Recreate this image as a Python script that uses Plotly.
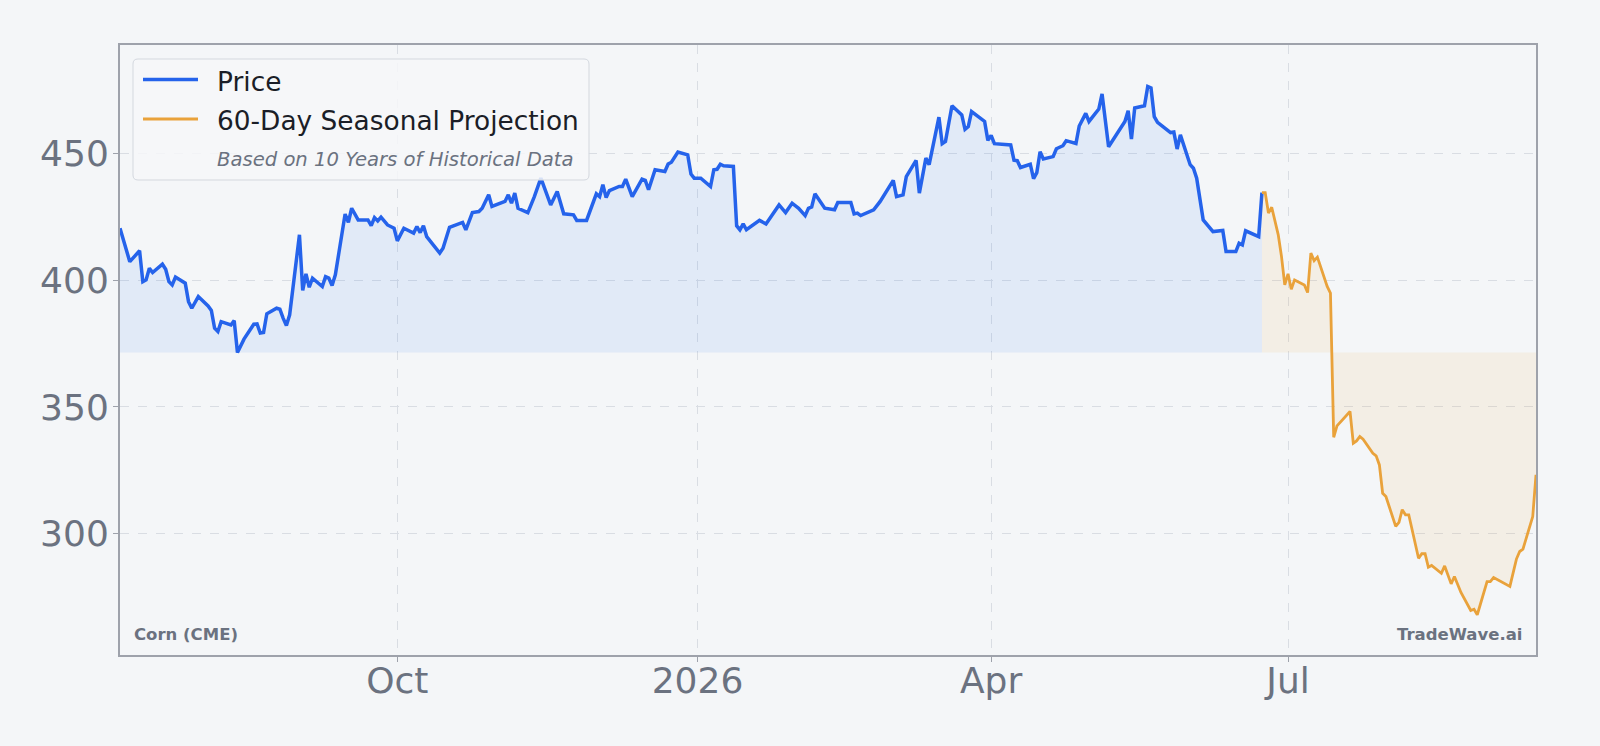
import plotly.graph_objects as go

# ---------------- data ----------------
price_dates = [
    "2025-07-08", "2025-07-09", "2025-07-11", "2025-07-14", "2025-07-15", "2025-07-16", "2025-07-17", "2025-07-18",
    "2025-07-21", "2025-07-22", "2025-07-23", "2025-07-24", "2025-07-25", "2025-07-28", "2025-07-29", "2025-07-30",
    "2025-08-01", "2025-08-04", "2025-08-05", "2025-08-06", "2025-08-07", "2025-08-08", "2025-08-11", "2025-08-12",
    "2025-08-13", "2025-08-15", "2025-08-18", "2025-08-19", "2025-08-20", "2025-08-21", "2025-08-22", "2025-08-25",
    "2025-08-26", "2025-08-27", "2025-08-28", "2025-08-29", "2025-09-01", "2025-09-02", "2025-09-03", "2025-09-04",
    "2025-09-05", "2025-09-08", "2025-09-09", "2025-09-10", "2025-09-11", "2025-09-12", "2025-09-15", "2025-09-16",
    "2025-09-17", "2025-09-19", "2025-09-22", "2025-09-23", "2025-09-24", "2025-09-25", "2025-09-26", "2025-09-28",
    "2025-09-30", "2025-10-01", "2025-10-03", "2025-10-06", "2025-10-07", "2025-10-08", "2025-10-09", "2025-10-10",
    "2025-10-14", "2025-10-15", "2025-10-17", "2025-10-21", "2025-10-22", "2025-10-24", "2025-10-26", "2025-10-27",
    "2025-10-29", "2025-10-30", "2025-11-03", "2025-11-04", "2025-11-05", "2025-11-06", "2025-11-07", "2025-11-10",
    "2025-11-12", "2025-11-14", "2025-11-17", "2025-11-19", "2025-11-21", "2025-11-24", "2025-11-25", "2025-11-28",
    "2025-12-01", "2025-12-02", "2025-12-03", "2025-12-04", "2025-12-05", "2025-12-08", "2025-12-09", "2025-12-10",
    "2025-12-12", "2025-12-15", "2025-12-16", "2025-12-17", "2025-12-19", "2025-12-22", "2025-12-23", "2025-12-24",
    "2025-12-26", "2025-12-29", "2025-12-30", "2025-12-31", "2026-01-02", "2026-01-05", "2026-01-06", "2026-01-07",
    "2026-01-08", "2026-01-09", "2026-01-12", "2026-01-13", "2026-01-14", "2026-01-15", "2026-01-16", "2026-01-20",
    "2026-01-22", "2026-01-26", "2026-01-28", "2026-01-30", "2026-02-01", "2026-02-03", "2026-02-04", "2026-02-05",
    "2026-02-06", "2026-02-09", "2026-02-11", "2026-02-12", "2026-02-13", "2026-02-17", "2026-02-18", "2026-02-19",
    "2026-02-20", "2026-02-24", "2026-02-26", "2026-03-02", "2026-03-03", "2026-03-05", "2026-03-06", "2026-03-09",
    "2026-03-10", "2026-03-12", "2026-03-13", "2026-03-16", "2026-03-17", "2026-03-18", "2026-03-20", "2026-03-23",
    "2026-03-24", "2026-03-25", "2026-03-26", "2026-03-30", "2026-03-31", "2026-04-01", "2026-04-02", "2026-04-07",
    "2026-04-08", "2026-04-09", "2026-04-10", "2026-04-13", "2026-04-14", "2026-04-15", "2026-04-16", "2026-04-17",
    "2026-04-20", "2026-04-21", "2026-04-23", "2026-04-24", "2026-04-27", "2026-04-28", "2026-04-30", "2026-05-01",
    "2026-05-04", "2026-05-05", "2026-05-07", "2026-05-12", "2026-05-13", "2026-05-14", "2026-05-15", "2026-05-18",
    "2026-05-19", "2026-05-20", "2026-05-21", "2026-05-22", "2026-05-26", "2026-05-27", "2026-05-28", "2026-05-29",
    "2026-06-01", "2026-06-02", "2026-06-03", "2026-06-04", "2026-06-05", "2026-06-08", "2026-06-11", "2026-06-12",
    "2026-06-15", "2026-06-16", "2026-06-17", "2026-06-18", "2026-06-22", "2026-06-23",
]
price_values = [
    420.6, 416.0, 407.4, 411.7, 399.5, 400.2, 404.8, 403.1,
    406.4, 404.4, 399.5, 398.2, 401.3, 398.9, 391.6, 389.0,
    393.6, 389.9, 388.1, 381.1, 379.8, 383.7, 382.4, 384.1,
    371.5, 376.8, 382.7, 382.8, 379.2, 379.4, 386.8, 389.0,
    388.6, 385.1, 382.2, 386.4, 418.0, 396.0, 402.6, 397.3,
    400.9, 397.6, 401.5, 400.9, 398.0, 402.2, 426.2, 422.9,
    428.5, 423.9, 423.9, 421.6, 424.8, 423.5, 425.0, 421.9,
    420.6, 415.6, 420.6, 418.7, 421.3, 418.9, 421.6, 417.3,
    410.8, 412.7, 421.0, 422.9, 420.0, 426.8, 427.2, 428.5,
    433.8, 429.2, 431.2, 433.8, 430.5, 434.5, 428.5, 426.8,
    433.1, 440.4, 429.8, 435.1, 426.3, 425.9, 423.7, 423.7,
    434.2, 433.1, 437.8, 432.7, 435.5, 437.1, 437.1, 440.0,
    433.1, 440.0, 439.5, 435.8, 443.7, 443.0, 446.0, 446.7,
    450.7, 449.6, 442.0, 440.4, 440.4, 437.1, 443.7, 443.9,
    445.9, 445.3, 445.0, 421.6, 420.0, 422.3, 420.0, 423.7,
    422.3, 429.8, 426.8, 430.5, 428.5, 425.6, 428.5, 429.0,
    434.2, 428.5, 428.2, 427.9, 430.8, 430.8, 426.3, 426.6,
    425.6, 427.9, 431.2, 439.5, 433.1, 433.8, 441.0, 447.4,
    434.5, 448.3, 445.7, 464.5, 454.0, 454.9, 469.0, 465.4,
    459.7, 460.8, 466.7, 462.8, 455.3, 457.3, 454.0, 453.5,
    447.5, 447.3, 444.6, 445.9, 440.2, 442.6, 450.8, 448.0,
    448.9, 452.0, 453.2, 455.2, 454.1, 461.0, 466.0, 462.8,
    467.7, 473.7, 452.8, 462.8, 467.0, 455.8, 468.1, 469.0,
    476.6, 476.0, 464.7, 462.4, 458.4, 458.6, 451.9, 457.5,
    445.7, 444.3, 440.4, 431.8, 423.9, 419.3, 419.7, 411.4,
    411.4, 414.7, 414.0, 419.6, 417.3, 434.7,
]

proj_dates = [
    "2026-06-23", "2026-06-24", "2026-06-25", "2026-06-26", "2026-06-28", "2026-06-29", "2026-06-30", "2026-07-01",
    "2026-07-02", "2026-07-03", "2026-07-06", "2026-07-07", "2026-07-08", "2026-07-09", "2026-07-10", "2026-07-13",
    "2026-07-14", "2026-07-15", "2026-07-16", "2026-07-20", "2026-07-21", "2026-07-22", "2026-07-23", "2026-07-24",
    "2026-07-27", "2026-07-28", "2026-07-29", "2026-07-30", "2026-07-31", "2026-08-03", "2026-08-04", "2026-08-05",
    "2026-08-06", "2026-08-07", "2026-08-10", "2026-08-11", "2026-08-12", "2026-08-13", "2026-08-14", "2026-08-17",
    "2026-08-18", "2026-08-20", "2026-08-21", "2026-08-23", "2026-08-26", "2026-08-27", "2026-08-28", "2026-08-31",
    "2026-09-01", "2026-09-02", "2026-09-07", "2026-09-09", "2026-09-10", "2026-09-11", "2026-09-14", "2026-09-15",
]
proj_values = [
    434.7, 434.7, 426.6, 428.9, 418.0, 409.4, 398.2, 402.6,
    396.5, 400.2, 398.2, 395.2, 410.8, 407.8, 409.2, 397.6,
    395.0, 338.0, 342.5, 348.2, 335.7, 336.6, 338.3, 337.3,
    331.7, 330.7, 327.1, 315.9, 314.6, 302.8, 304.4, 309.4,
    307.4, 307.4, 290.2, 292.0, 292.0, 286.7, 287.4, 284.3,
    287.2, 280.1, 283.0, 276.7, 269.6, 270.1, 267.9, 281.0,
    281.0, 282.6, 279.1, 289.9, 292.9, 293.8, 306.7, 323.2,
]

x_tickvals = ["2025-10-01", "2026-01-01", "2026-04-01", "2026-07-01"]
x_ticktext = ["Oct", "2026", "Apr", "Jul"]
y_tickvals = [300, 350, 400, 450]
y_range = [252, 493]

legend_labels = ["Price", "60-Day Seasonal Projection"]
legend_note = "Based on 10 Years of Historical Data"
corner_left = "Corn (CME)"
corner_right = "TradeWave.ai"

assert len(price_dates) == len(price_values)
assert len(proj_dates) == len(proj_values)

# ---------------- style ----------------
BG = "#f4f6f8"
BLUE = "#2563eb"
ORANGE = "#e9a23b"
GRID = "#d9dde3"
FRAME = "#9ea2ab"
TICK = "#6b7280"
DARK = "#1b1e27"
FONT = "DejaVu Sans"

W_PX, H_PX = 1600, 746
L, R, T, B = 120, 1536, 45, 655  # plot-area pixel box


def px(xp):
    return (xp - L) / (R - L)


def py(yp):
    return (B - yp) / (B - T)


baseline = min(price_values)

fig = go.Figure()
fig.add_trace(go.Scatter(
    x=[price_dates[0], price_dates[-1]], y=[baseline, baseline], mode="lines",
    line=dict(width=0, color="rgba(0,0,0,0)"), hoverinfo="skip", showlegend=False))
fig.add_trace(go.Scatter(
    x=price_dates, y=price_values, mode="lines", name=legend_labels[0],
    line=dict(color=BLUE, width=3.5), fill="tonexty", fillcolor="rgba(59,130,246,0.1)"))
fig.add_trace(go.Scatter(
    x=[proj_dates[0], proj_dates[-1]], y=[baseline, baseline], mode="lines",
    line=dict(width=0, color="rgba(0,0,0,0)"), hoverinfo="skip", showlegend=False))
fig.add_trace(go.Scatter(
    x=proj_dates, y=proj_values, mode="lines", name=legend_labels[1],
    line=dict(color=ORANGE, width=2.8), fill="tonexty", fillcolor="rgba(245,158,11,0.08)"))

axis_common = dict(
    showgrid=True, gridcolor=GRID, gridwidth=1, griddash="dash",
    showline=True, mirror=True, linecolor=FRAME, linewidth=2,
    ticks="outside", ticklen=5, tickwidth=1, tickcolor=FRAME,
    zeroline=False, tickfont=dict(family=FONT, size=36, color=TICK),
)

fig.update_layout(
    width=W_PX, height=H_PX,
    margin=dict(l=L, r=W_PX - R, t=T, b=H_PX - B, pad=0),
    paper_bgcolor=BG, plot_bgcolor=BG,
    showlegend=False,
    font=dict(family=FONT, color=TICK),
    xaxis=dict(range=[price_dates[0], proj_dates[-1]], tickvals=x_tickvals, ticktext=x_ticktext,
               ticklabelstandoff=-12, **axis_common),
    yaxis=dict(range=y_range, tickvals=y_tickvals, ticklabelstandoff=-3, **axis_common),
)

# ---- manual legend ----
def P(xp, yp):
    return f"{px(xp):.5f},{py(yp):.5f}"

x0, y0, x1, y1, r = 133, 59, 589, 180, 5
path = (f"M{P(x0 + r, y0)} L{P(x1 - r, y0)} Q{P(x1, y0)} {P(x1, y0 + r)} "
        f"L{P(x1, y1 - r)} Q{P(x1, y1)} {P(x1 - r, y1)} L{P(x0 + r, y1)} "
        f"Q{P(x0, y1)} {P(x0, y1 - r)} L{P(x0, y0 + r)} Q{P(x0, y0)} {P(x0 + r, y0)} Z")
fig.add_shape(type="path", path=path, xref="paper", yref="paper",
              fillcolor="rgba(246,247,249,0.85)", line=dict(color="#d4d8df", width=1), layer="above")
fig.add_shape(type="line", xref="paper", yref="paper", x0=px(143), x1=px(198), y0=py(79.5), y1=py(79.5),
              line=dict(color=BLUE, width=3.5), layer="above")
fig.add_shape(type="line", xref="paper", yref="paper", x0=px(143), x1=px(198), y0=py(119), y1=py(119),
              line=dict(color=ORANGE, width=2.8), layer="above")

fig.add_annotation(text=legend_labels[0], xref="paper", yref="paper", x=px(215), y=py(81),
                   xanchor="left", yanchor="middle", showarrow=False,
                   font=dict(family=FONT, size=26.4, color=DARK))
fig.add_annotation(text=legend_labels[1], xref="paper", yref="paper", x=px(215), y=py(120.5),
                   xanchor="left", yanchor="middle", showarrow=False,
                   font=dict(family=FONT, size=26.4, color=DARK))
fig.add_annotation(text=legend_note, xref="paper", yref="paper", x=px(215), y=py(159.5),
                   xanchor="left", yanchor="middle", showarrow=False,
                   font=dict(family=FONT, size=19.6, color=TICK, style="italic"))

# ---- corner labels ----
fig.add_annotation(text=corner_left, xref="paper", yref="paper", x=px(132), y=py(634),
                   xanchor="left", yanchor="middle", showarrow=False,
                   font=dict(family=FONT, size=16.5, color=TICK, weight="bold"))
fig.add_annotation(text=corner_right, xref="paper", yref="paper", x=px(1523.5), y=py(634),
                   xanchor="right", yanchor="middle", showarrow=False,
                   font=dict(family=FONT, size=16.5, color=TICK, weight="bold"))

fig.write_html("out.html")
